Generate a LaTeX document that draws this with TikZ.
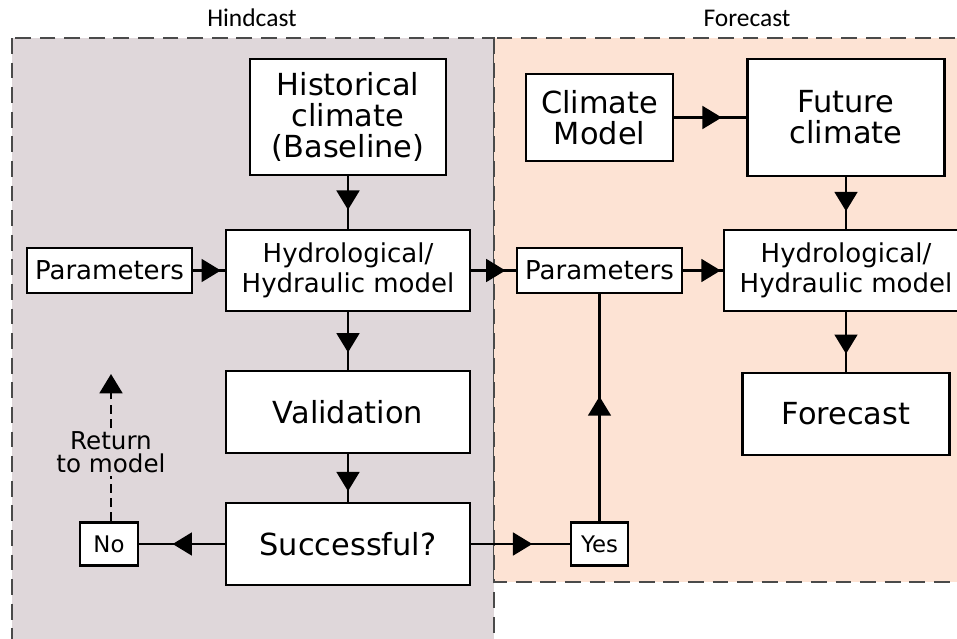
\documentclass[tikz,border=0pt]{standalone}
\usepackage{xcolor}
\usepackage{tikz}
\usepackage{fontspec}
\setmainfont{DejaVu Sans}
\newfontfamily\titlefont{Carlito}
\usetikzlibrary{arrows.meta,positioning,calc,decorations.markings}
\definecolor{hindfill}{HTML}{DFD7DA}
\definecolor{forefill}{HTML}{FDE3D4}
\definecolor{panelline}{HTML}{4A4A4A}

\tikzset{
  box/.style={draw, line width=1.6pt, fill=white, align=center, inner sep=2pt},
  bigtext/.style={font=\fontsize{17.3}{17.5}\selectfont},
  midtext/.style={font=\fontsize{14.8}{17}\selectfont},
  smalltext/.style={font=\fontsize{13}{15}\selectfont},
  link/.style={line width=1.35pt},
  midarrow/.style={postaction={decorate}, decoration={markings,
      mark=at position #1 with {\arrow{Triangle[width=13pt,length=11pt]}}}},
  panel/.style={dash pattern=on 9pt off 5pt, line width=0.6pt, draw=panelline}
}

\begin{document}
\begin{tikzpicture}[x=0.02cm,y=-0.02cm]
  \useasboundingbox (0,0) rectangle (957,639);
  \clip (0,0) rectangle (957,639);

  % Hindcast and forecast panels
  \filldraw[panel,fill=hindfill] (12,38) rectangle (494,660);
  \filldraw[panel,fill=forefill] (494,38) rectangle (980,582);
  \node[font=\titlefont\fontsize{14.5}{16}\selectfont] (hindtitle) at (252,18) {Hindcast};
  \node[font=\titlefont\fontsize{14.5}{16}\selectfont] (foretitle) at (747,18) {Forecast};

  % Hindcast boxes
  \node[box,bigtext,minimum width=3.92cm,minimum height=2.32cm] (hist) at (348,117) {Historical\\climate\\(Baseline)};
  \node[box,midtext,minimum width=4.88cm,minimum height=1.62cm] (hydroL) at (348,270.5) {Hydrological/\\Hydraulic model};
  \node[box,midtext,minimum width=3.3cm,minimum height=0.9cm] (parL) at (109.5,270.5) {Parameters};
  \node[box,bigtext,minimum width=4.88cm,minimum height=1.64cm] (val) at (348,412) {Validation};
  \node[box,bigtext,minimum width=4.88cm,minimum height=1.64cm] (succ) at (348,544) {Successful?};
  \node[box,smalltext,minimum width=1.16cm,minimum height=0.86cm] (no) at (109,544) {No};
  \node[font=\fontsize{14}{13}\selectfont,align=center,inner sep=2pt] (ret) at (111,452) {Return\\to model};
  \coordinate (rettop) at (111,374);

  % Forecast boxes
  \node[box,bigtext,minimum width=2.94cm,minimum height=1.74cm] (cm) at (599.5,117.5) {Climate\\Model};
  \node[box,bigtext,minimum width=3.94cm,minimum height=2.34cm] (fut) at (846,117.5) {Future\\climate};
  \node[box,midtext,minimum width=3.3cm,minimum height=0.9cm] (parF) at (599.5,270.5) {Parameters};
  \node[box,midtext,minimum width=4.88cm,minimum height=1.62cm] (hydroF) at (846,270.5) {Hydrological/\\Hydraulic model};
  \node[box,bigtext,minimum width=4.14cm,minimum height=1.64cm] (fc) at (846,414) {Forecast};
  \node[box,smalltext,minimum width=1.14cm,minimum height=0.86cm] (yes) at (599.5,544) {Yes};

  % Connectors
  \draw[link,midarrow=0.64] (hist) -- (hydroL);
  \draw[link,midarrow=0.88] (parL) -- (hydroL);
  \draw[link,midarrow=0.77] (hydroL) -- (parF);
  \draw[link,midarrow=0.95] (parF) -- (hydroF);
  \draw[link,midarrow=0.66] (cm) -- (fut);
  \draw[link,midarrow=0.66] (fut) -- (hydroF);
  \draw[link,midarrow=0.7] (hydroF) -- (fc);
  \draw[link,midarrow=0.7] (hydroL) -- (val);
  \draw[link,midarrow=0.78] (val) -- (succ);
  \draw[link,midarrow=0.61] (succ) -- (no);
  \draw[link,midarrow=0.62] (succ) -- (yes);
  \draw[link,midarrow=0.55] (yes) -- (parF);

  % Return to model (dashed)
  \draw[link,dash pattern=on 5pt off 3pt] (no.north -| ret) -- (ret.south);
  \draw[link,dash pattern=on 5pt off 3pt,-{Triangle[width=13pt,length=11pt]}] (ret.north) -- (rettop);
\end{tikzpicture}
\end{document}
